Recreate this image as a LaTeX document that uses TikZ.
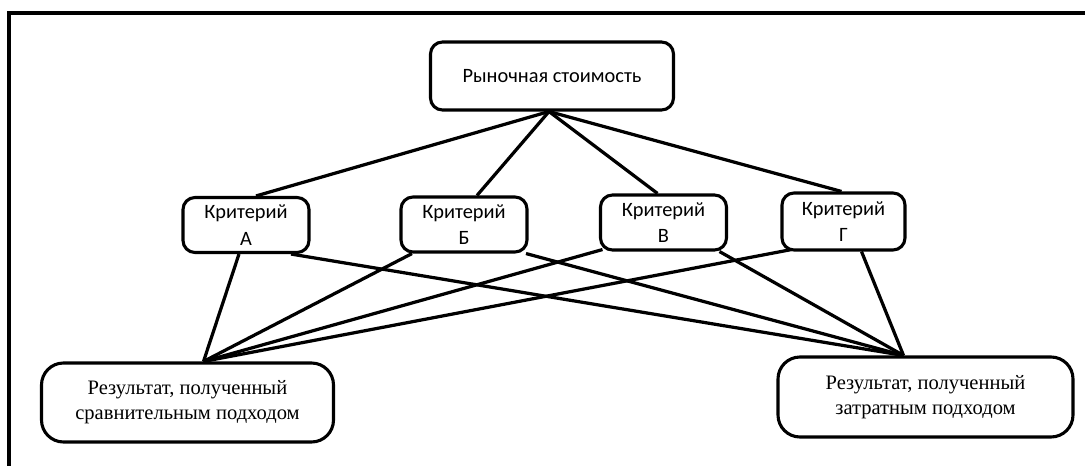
\documentclass[tikz,border=0pt]{standalone}
\usepackage{fontspec}
\setmainfont{Liberation Serif}
\newfontfamily\calib{Carlito}
\usetikzlibrary{calc}
\begin{document}
\begin{tikzpicture}[x=0.025cm,y=-0.025cm,
  box/.style={draw,line width=2.2pt,rounded corners=12*0.025cm,inner sep=0pt,align=center},
  crit/.style={box,font=\calib\fontsize{14.5}{19}\selectfont,minimum width=126*0.025cm,minimum height=55*0.025cm},
  res/.style={box,rounded corners=22*0.025cm,font=\fontsize{14.6}{17.7}\selectfont,minimum width=292*0.025cm,minimum height=79*0.025cm},
  link/.style={line width=2.3pt}]
\useasboundingbox (0,0) rectangle (1085,466);
\draw[line width=2.4pt] (9,466) -- (9,13) -- (1085,13);
\node[box,font=\calib\fontsize{14.5}{19}\selectfont,minimum width=243*0.025cm,minimum height=68*0.025cm] (top) at (552,76) {Рыночная стоимость};
\node[crit] (A) at (246,225) {Критерий\\А};
\node[crit] (B) at (464,224.5) {Критерий\\Б};
\node[crit] (V) at (663.5,222.5) {Критерий\\В};
\node[crit,minimum width=123*0.025cm,minimum height=57*0.025cm] (G) at (843.5,221.5) {Критерий\\Г};
\node[res] (L) at (187.5,402.5) {Результат, полученный\\сравнительным подходом};
\node[res,minimum width=295*0.025cm,minimum height=80*0.025cm] (R) at (925.5,397) {Результат, полученный\\затратным подходом};
\coordinate (tp) at ($(top.south)+(-3,0)$);
\coordinate (lp) at ($(L.north)+(16,0)$);
\coordinate (rp) at ($(R.north)+(-22,0)$);
\draw[link] (tp) -- ($(A.north)+(10,0)$);
\draw[link] (tp) -- ($(B.north)+(13,0)$);
\draw[link] (tp) -- ($(V.north)+(-6,0)$);
\draw[link] (tp) -- ($(G.north)+(-2,0)$);
\draw[link] ($(A.south)+(-7,0)$) -- (lp);
\draw[link] ($(A.south)+(45,0)$) -- (rp);
\draw[link] ($(B.south)+(-52,0)$) -- (lp);
\draw[link] ($(B.south)+(62,0)$) -- (rp);
\draw[link] ($(V.south)+(-61,-2)$) -- (lp);
\draw[link] ($(V.south)+(56,0)$) -- (rp);
\draw[link] ($(G.south)+(-52,-2)$) -- (lp);
\draw[link] ($(G.south)+(18,0)$) -- (rp);
\end{tikzpicture}
\end{document}
